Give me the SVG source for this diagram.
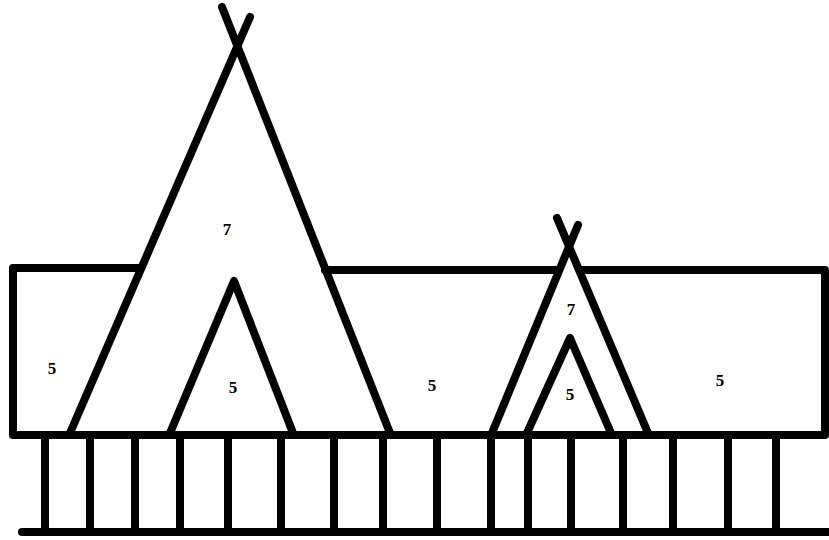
<svg xmlns="http://www.w3.org/2000/svg" width="829" height="540" viewBox="0 0 829 540">
<style>
.s{fill:none;stroke:#000;stroke-width:8;stroke-linecap:round;stroke-linejoin:round}
.t{font-family:"Liberation Serif",serif;font-size:17px;font-weight:bold;fill:#000;text-anchor:middle}
</style>
<rect width="829" height="540" fill="#fff"/>
<g id="wall">
<path class="s" d="M141,268 L13,268 L13,435 L825,435 L825,270 L581,270"/>
<path class="s" d="M325,270 L557,270"/>
</g>
<g id="fence">
<path class="s" d="M45,437V528 M90,437V528 M135,437V528 M180,437V528 M228,437V528 M281,437V528 M334,437V528 M383,437V528 M437,437V528 M491,437V528 M528,437V528 M571,437V528 M623,437V528 M673,437V528 M728,437V528 M776,437V528"/>
<path class="s" d="M22,532 L829,532"/>
</g>
<g id="big-teepee">
<path class="s" d="M70,433 L250,17 M390,433 L222,7"/>
<path class="s" d="M170,433 L234,281 L293,433"/>
<text class="t" x="227" y="235">7</text>
<text class="t" x="233" y="393">5</text>
</g>
<g id="small-teepee">
<path class="s" d="M492,433 L578,225 M648,433 L557,218"/>
<path class="s" d="M527,433 L570,338 L611,433"/>
<text class="t" x="571" y="315">7</text>
<text class="t" x="570" y="400">5</text>
</g>
<g id="labels">
<text class="t" x="52" y="374">5</text>
<text class="t" x="432" y="391">5</text>
<text class="t" x="720" y="386">5</text>
</g>
</svg>
